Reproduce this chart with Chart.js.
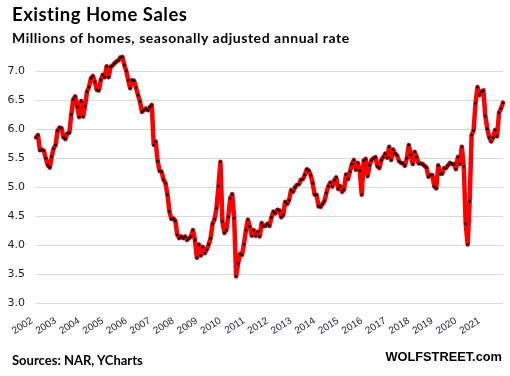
<!DOCTYPE html>
<html>
<head>
<meta charset="utf-8">
<script src="https://cdn.jsdelivr.net/npm/chart.js@4/dist/chart.umd.min.js"></script>
<style>
  html, body { margin: 0; padding: 0; background: #ffffff; }
  #wrap { position: relative; width: 510px; height: 376px; overflow: hidden; background: #fff; }
  #chart { position: absolute; left: 0; top: 0; }
  .txt { position: absolute; white-space: nowrap; color: #000; line-height: 1; }
  #title { left: 12px; top: 3px; font: bold 18.5px Lato, sans-serif; letter-spacing: 0.5px; }
  #subtitle { left: 12px; top: 29px; font: bold 14px Lato, sans-serif; letter-spacing: 0.55px; }
  #source { left: 12px; top: 352px; font: bold 13px Lato, sans-serif; }
  #brand { right: 8px; top: 349px; font: bold 12.8px "Liberation Sans", Arial, sans-serif; }
</style>
</head>
<body>
<div id="wrap">
  <canvas id="chart" width="510" height="376"></canvas>
  <div class="txt" id="title">Existing Home Sales</div>
  <div class="txt" id="subtitle">Millions of homes, seasonally adjusted annual rate</div>
  <div class="txt" id="source">Sources: NAR, YCharts</div>
  <div class="txt" id="brand">WOLFSTREET.com</div>
</div>
<script>
const years = ['2002','2003','2004','2005','2006','2007','2008','2009','2010','2011',
               '2012','2013','2014','2015','2016','2017','2018','2019','2020','2021'];
const months = ['Jan','Feb','Mar','Apr','May','Jun','Jul','Aug','Sep','Oct','Nov','Dec'];
const yTicks = [3.0, 3.5, 4.0, 4.5, 5.0, 5.5, 6.0, 6.5, 7.0];

// Existing home sales, millions, SAAR, monthly Jan 2002 - Nov 2021
const sales = [
  5.86, 5.90, 5.64, 5.65, 5.63, 5.50, 5.38, 5.34, 5.53, 5.67, 5.73, 5.98,
  6.03, 6.02, 5.86, 5.83, 5.93, 5.94, 6.26, 6.52, 6.57, 6.39, 6.21, 6.49,
  6.22, 6.40, 6.65, 6.73, 6.88, 6.92, 6.82, 6.68, 6.67, 6.85, 6.94, 6.90,
  7.09, 6.90, 7.08, 7.10, 7.14, 7.17, 7.19, 7.24, 7.25, 7.11, 7.01, 6.85,
  6.71, 6.85, 6.84, 6.72, 6.59, 6.48, 6.30, 6.33, 6.36, 6.33, 6.38, 6.42,
  5.73, 5.79, 5.45, 5.28, 5.27, 5.13, 5.07, 4.87, 4.58, 4.45, 4.46, 4.42,
  4.18, 4.12, 4.15, 4.12, 4.15, 4.09, 4.12, 4.15, 4.26, 4.09, 3.78, 4.01,
  3.82, 3.97, 3.86, 3.92, 4.01, 4.12, 4.37, 4.45, 4.64, 5.02, 5.44, 4.41,
  4.21, 4.26, 4.49, 4.81, 4.88, 4.47, 3.46, 3.68, 3.85, 3.83, 4.02, 4.26,
  4.44, 4.32, 4.16, 4.26, 4.16, 4.23, 4.15, 4.38, 4.33, 4.33, 4.37, 4.33,
  4.48, 4.58, 4.55, 4.61, 4.60, 4.48, 4.52, 4.75, 4.71, 4.78, 4.95, 4.92,
  5.00, 5.04, 5.05, 5.13, 5.14, 5.21, 5.31, 5.29, 5.21, 5.07, 4.87, 4.87,
  4.67, 4.66, 4.71, 4.76, 4.90, 5.02, 5.08, 5.01, 5.12, 5.17, 4.97, 5.02,
  4.92, 4.96, 5.22, 5.14, 5.27, 5.40, 5.47, 5.30, 5.42, 5.29, 4.87, 5.46,
  5.49, 5.19, 5.38, 5.47, 5.50, 5.52, 5.36, 5.33, 5.47, 5.52, 5.58, 5.51,
  5.70, 5.47, 5.65, 5.58, 5.55, 5.45, 5.42, 5.41, 5.37, 5.50, 5.73, 5.56,
  5.40, 5.61, 5.52, 5.41, 5.41, 5.40, 5.37, 5.34, 5.18, 5.21, 5.21, 5.01,
  4.98, 5.38, 5.23, 5.23, 5.33, 5.33, 5.38, 5.42, 5.40, 5.40, 5.31, 5.52,
  5.40, 5.70, 5.36, 4.37, 4.01, 4.76, 5.90, 5.98, 6.45, 6.73, 6.59, 6.65,
  6.67, 6.23, 6.01, 5.86, 5.79, 5.86, 5.99, 5.88, 6.29, 6.36, 6.46
];

const labels = sales.map((v, i) => months[i % 12] + ' ' + years[Math.floor(i / 12)]);

const CHART_LEFT = 36, CHART_RIGHT = 503, CHART_TOP = 54, CHART_BOTTOM = 303;

new Chart(document.getElementById('chart'), {
  type: 'line',
  data: {
    labels: labels,
    datasets: [{
      data: sales,
      borderColor: '#ff0000',
      borderWidth: 4.5,
      borderJoinStyle: 'round',
      borderCapStyle: 'round',
      tension: 0,
      pointRadius: 1.5,
      pointBackgroundColor: '#111111',
      pointBorderWidth: 0,
      pointHoverRadius: 1.5,
      clip: 6
    }]
  },
  options: {
    responsive: false,
    animation: false,
    events: [],
    layout: { padding: { left: 0, right: 510 - CHART_RIGHT, top: CHART_TOP, bottom: 0 } },
    plugins: { legend: { display: false }, tooltip: { enabled: false }, title: { display: false } },
    scales: {
      x: {
        type: 'category',
        offset: false,
        grid: { display: false, drawTicks: false },
        border: { display: false },
        ticks: {
          autoSkip: false,
          minRotation: 32,
          maxRotation: 32,
          padding: 12,
          labelOffset: -4,
          color: '#1a1a2e',
          font: { family: 'Liberation Sans', size: 10 },
          callback: function (val, idx) { return idx % 12 === 0 ? years[idx / 12] : ''; }
        },
        afterFit: function (scale) {
          scale.height = 376 - CHART_BOTTOM;
          scale.paddingLeft = 0;
          scale.paddingRight = 0;
        }
      },
      y: {
        type: 'linear',
        min: 3.0,
        max: 7.3,
        grid: { color: '#d9d9d9', lineWidth: 1, drawTicks: false },
        border: { display: false },
        afterBuildTicks: function (scale) { scale.ticks = yTicks.map(v => ({ value: v })); },
        ticks: {
          padding: 11,
          color: '#1a1a2e',
          font: { family: 'DejaVu Sans', size: 11 },
          callback: function (v) { return Number(v).toFixed(1); }
        },
        afterFit: function (scale) { scale.width = CHART_LEFT; }
      }
    }
  }
});
</script>
</body>
</html>
